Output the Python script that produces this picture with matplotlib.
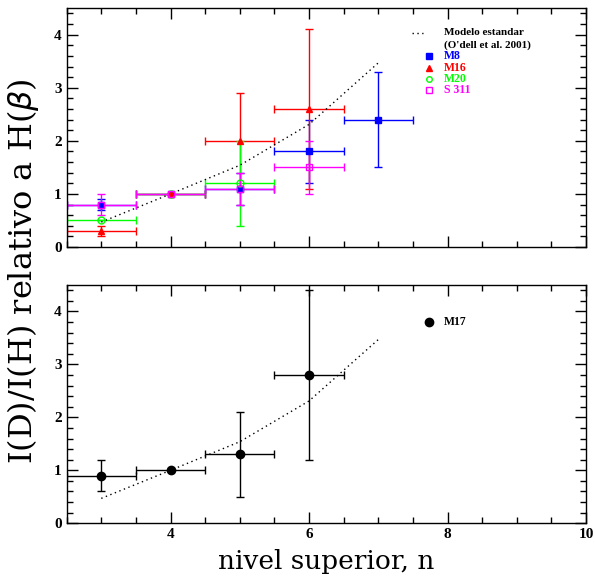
import numpy as np
import matplotlib
matplotlib.use("Agg")
import matplotlib.pyplot as plt
from matplotlib.ticker import MultipleLocator

# model curve (O'dell et al. 2001)
n_mod = [3, 4, 5, 6, 7]
r_mod = [0.47, 1.0, 1.54, 2.31, 3.47]

# top panel: n, ratio, yerr
n8 = [3, 4, 5, 6, 7]
r8 = [0.8, 1.0, 1.1, 1.8, 2.4]
e8 = [0.1, 0.0, 0.3, 0.6, 0.9]

n16 = [3, 4, 5, 6]
r16 = [0.3, 1.0, 2.0, 2.6]
e16 = [0.1, 0.0, 0.9, 1.5]

n20 = [3, 4, 5]
r20 = [0.5, 1.0, 1.2]
e20 = [0.0, 0.0, 0.8]

n311 = [3, 4, 5, 6]
r311 = [0.8, 1.0, 1.1, 1.5]
e311 = [0.2, 0.0, 0.3, 0.5]

# bottom panel: M17
n17 = [3, 4, 5, 6]
r17 = [0.9, 1.0, 1.3, 2.8]
e17 = [0.3, 0.0, 0.8, 1.6]

XERR = 0.5
plt.rcParams["font.family"] = "Liberation Serif"

fig = plt.figure(figsize=(5.95, 5.84), dpi=100)
ax1 = fig.add_axes([0.112, 0.577, 0.873, 0.409])
ax2 = fig.add_axes([0.112, 0.104, 0.873, 0.408])

series = [
    (n8, r8, e8, "#0000ff", "s", True, "M8"),
    (n16, r16, e16, "#ff0000", "^", True, "M16"),
    (n20, r20, e20, "#00ff00", "o", False, "M20"),
    (n311, r311, e311, "#ff00ff", "s", False, "S 311"),
]
for n, r, e, c, m, filled, lab in series:
    ax1.errorbar(n, r, yerr=e, xerr=XERR, fmt=m, color=c, ms=5,
                 mfc=c if filled else "none", mec=c, mew=1.0, elinewidth=1.0,
                 capsize=3, capthick=1.0)

for ax in (ax1, ax2):
    ax.plot(n_mod, r_mod, ls=(0, (1, 2.5)), color="black", lw=1.0)
    ax.set_xlim(2.5, 10)
    ax.set_ylim(0, 4.5)
    ax.xaxis.set_major_locator(MultipleLocator(2))
    ax.xaxis.set_minor_locator(MultipleLocator(0.5))
    ax.yaxis.set_major_locator(MultipleLocator(1))
    ax.yaxis.set_minor_locator(MultipleLocator(0.2))
    ax.tick_params(which="both", direction="in", top=True, right=True, width=1.0)
    ax.tick_params(which="major", length=8)
    ax.tick_params(which="minor", length=4)
    for lbl in ax.get_xticklabels() + ax.get_yticklabels():
        lbl.set_fontweight("bold")
        lbl.set_fontsize(11)
    for sp in ax.spines.values():
        sp.set_linewidth(1.0)

ax1.set_xticklabels([])

# top legend
ax1.plot([7.48, 7.64], [4.04, 4.04], ls=(0, (1, 2.5)), color="black", lw=1.0)
ax1.text(7.95, 4.04, "Modelo estandar", fontsize=8, fontweight="bold", va="center")
ax1.text(7.95, 3.8, "(O'dell et al. 2001)", fontsize=8, fontweight="bold", va="center")
ly = [3.6, 3.38, 3.16, 2.95]
for (n, r, e, c, m, filled, lab), y in zip(series, ly):
    ax1.plot(7.73, y, m, color=c, ms=4, mfc=c if filled else "none", mec=c)
    ax1.text(7.95, y, lab, fontsize=8.5, fontweight="bold", color=c, va="center")

# bottom panel
ax2.errorbar(n17, r17, yerr=e17, xerr=XERR, fmt="o", color="black", ms=6,
             elinewidth=1.0, capsize=3, capthick=1.0)
ax2.plot(7.73, 3.8, "o", color="black", ms=6)
ax2.text(7.95, 3.8, "M17", fontsize=8.5, fontweight="bold", va="center")

ax2.set_xlabel("nivel superior, n", fontsize=19, family="DejaVu Serif",
               fontweight="light", labelpad=6)
fig.text(0.039, 0.536, r"I(D)/I(H) relativo a H($\beta$)", rotation=90,
         fontsize=23, family="DejaVu Serif", fontweight="light",
         ha="center", va="center")

fig.savefig("out.png", dpi=100)
